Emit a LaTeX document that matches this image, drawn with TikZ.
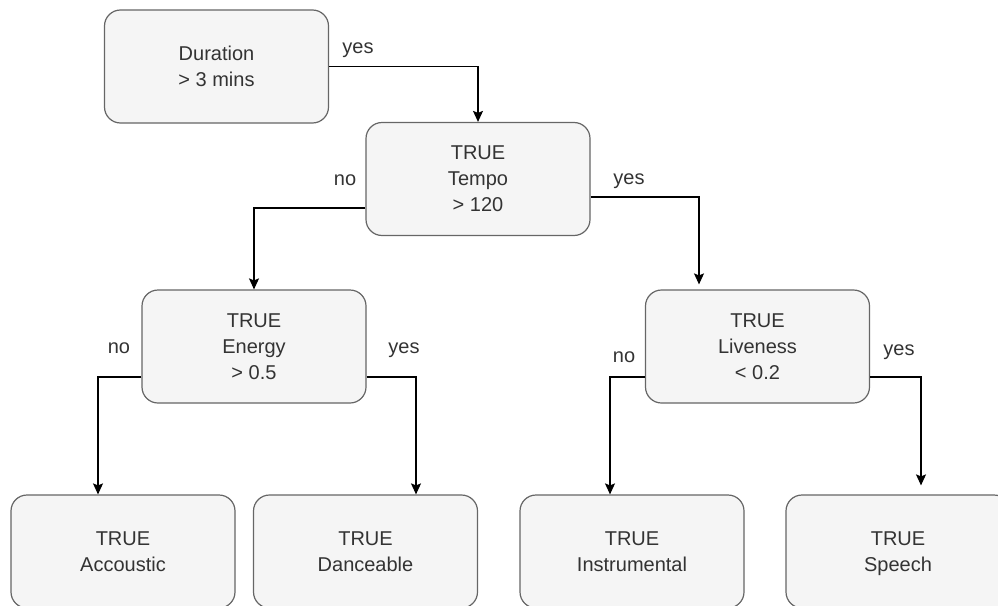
\documentclass[tikz,border=0pt]{standalone}
\usepackage{fontspec}
\setmainfont{Liberation Sans}
\usetikzlibrary{arrows.meta}
\definecolor{boxfill}{HTML}{F5F5F5}
\definecolor{boxline}{HTML}{666666}
\definecolor{txt}{HTML}{333333}
\tikzset{
  split/.style={draw=boxline, fill=boxfill, rounded corners=16pt, line width=1.2pt,
    minimum width=224pt, minimum height=113pt, inner sep=0pt, align=center,
    text depth=0pt, text=txt, font=\fontsize{20}{26}\selectfont},
  branch/.style={->, line width=1.3pt},
  lbl/.style={anchor=base, text=txt, font=\fontsize{20}{24}\selectfont}
}
\begin{document}
\begin{tikzpicture}[>={Stealth[length=11pt,width=10pt,inset=2pt]}, x=1pt, y=-1pt]
\useasboundingbox (0,0) rectangle (998,605);
% tests
\node[split] (dur) at (216.5,66.5) {Duration\\> 3 mins};
\node[split] (tempo) at (478,179) {TRUE\\Tempo\\> 120};
\node[split] (energy) at (254,346.5) {TRUE\\Energy\\> 0.5};
\node[split] (live) at (757.5,346.5) {TRUE\\Liveness\\< 0.2};
% leaves
\node[split] (acc) at (123,551.5) {TRUE\\Accoustic};
\node[split] (dance) at (365.5,551.5) {TRUE\\Danceable};
\node[split] (instr) at (632,551.5) {TRUE\\Instrumental};
\node[split] (speech) at (898,551.5) {TRUE\\Speech};
% branches
\draw[branch] (dur.east) -| (tempo.north);
\draw[branch] ([yshift=-29pt]tempo.west) -| (energy.north);
\draw[branch, shorten >=5pt] ([yshift=-18pt]tempo.east) -| ([xshift=-58.5pt]live.north);
\draw[branch] ([yshift=-30.5pt]energy.west) -| ([xshift=-25pt]acc.north);
\draw[branch] ([yshift=-30.5pt]energy.east) -| ([xshift=50.5pt]dance.north);
\draw[branch] ([yshift=-30.5pt]live.west) -| ([xshift=-22pt]instr.north);
\draw[branch, shorten >=9pt] ([yshift=-30.5pt]live.east) -| ([xshift=23pt]speech.north);
           \node[lbl] (y1) at (358,53) {yes};
           \node[lbl] (n1) at (345,185) {no};
           \node[lbl] (y2) at (629,184) {yes};
           \node[lbl] (n2) at (119,353) {no};
           \node[lbl] (y3) at (404,353) {yes};
           \node[lbl] (n3) at (624,362) {no};
           \node[lbl] (y4) at (899,355) {yes};
\end{tikzpicture}
\end{document}
